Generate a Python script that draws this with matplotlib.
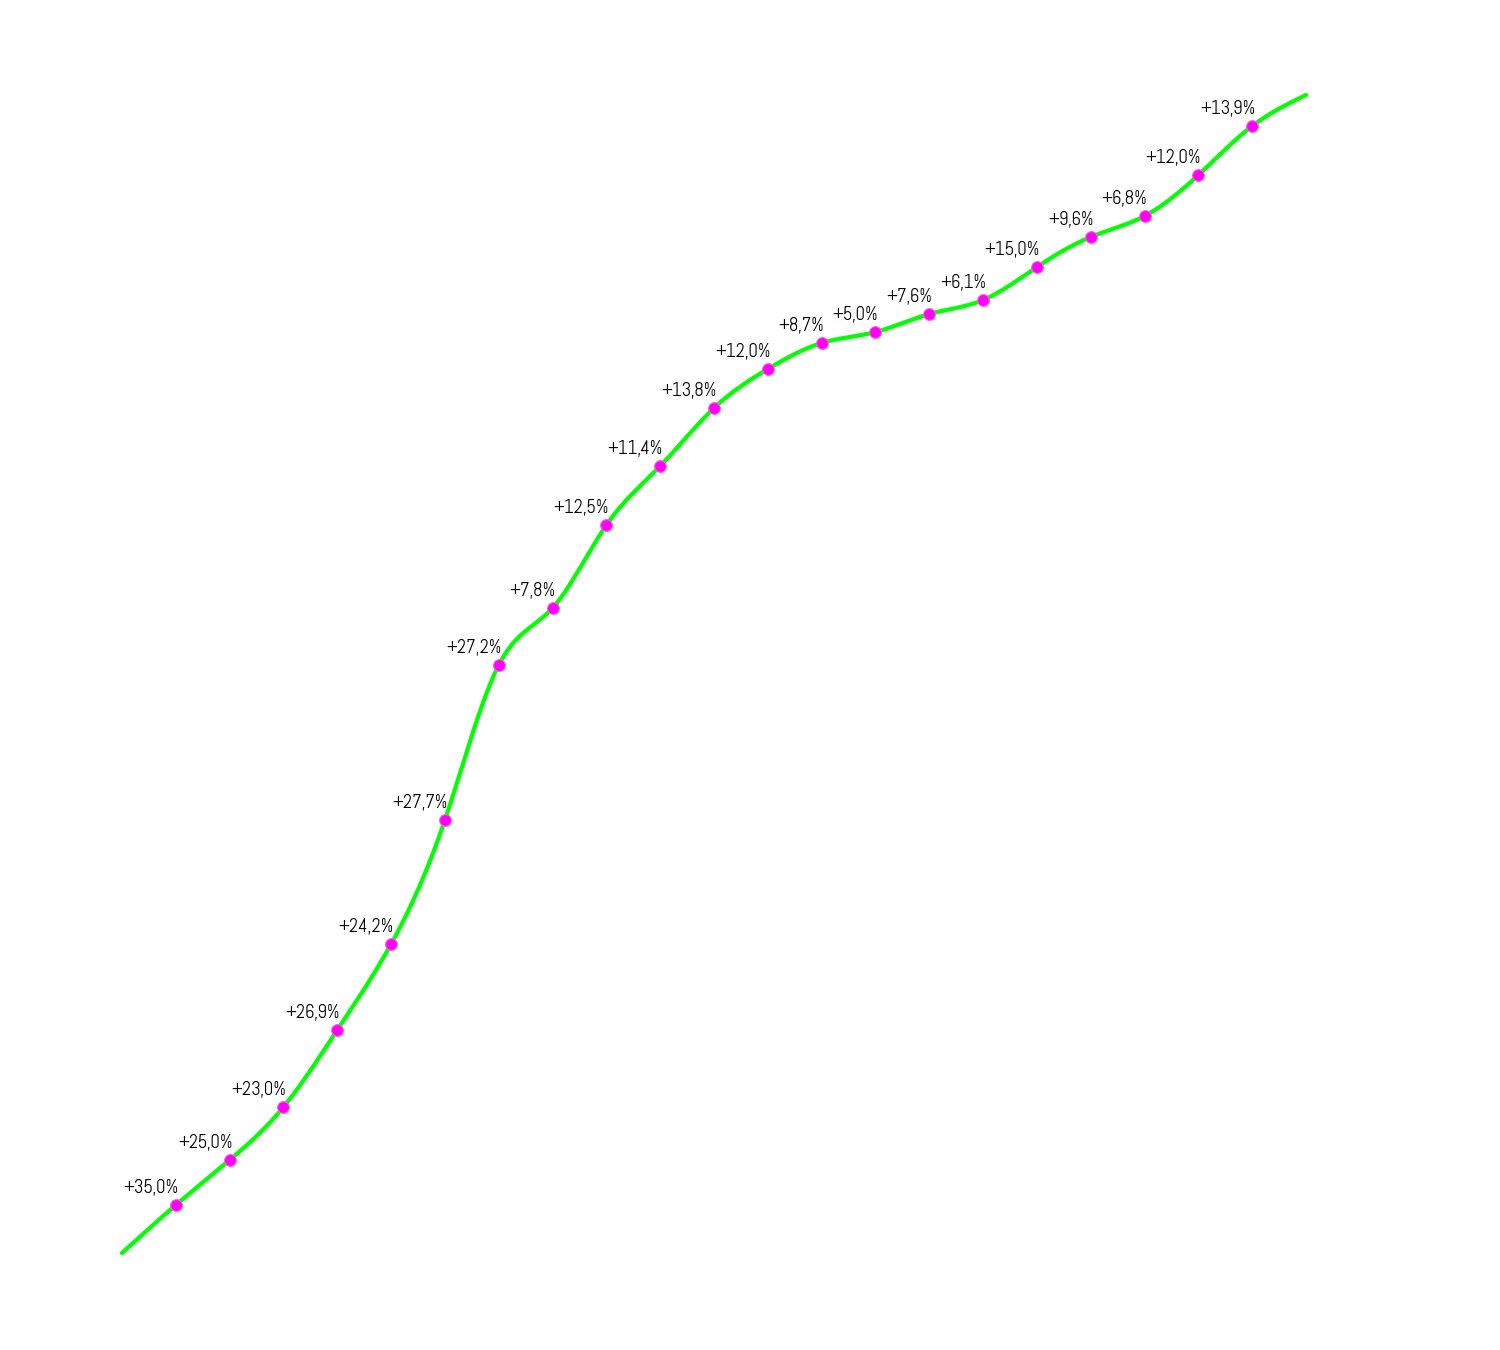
import numpy as np
import matplotlib.pyplot as plt

# data
periods = list(range(23))
index_values = [0, 48, 93, 146, 223, 309, 433, 588, 645, 728, 787, 845, 884,
                910, 921, 939, 953, 986, 1016, 1037, 1078, 1127, 1158]
growth_labels = ["", "+35,0%", "+25,0%", "+23,0%", "+26,9%", "+24,2%", "+27,7%",
                 "+27,2%", "+7,8%", "+12,5%", "+11,4%", "+13,8%", "+12,0%",
                 "+8,7%", "+5,0%", "+7,6%", "+6,1%", "+15,0%", "+9,6%",
                 "+6,8%", "+12,0%", "+13,9%", ""]


def natural_spline(x, y, n=40):
    x = np.asarray(x, float)
    y = np.asarray(y, float)
    k = len(x)
    h = np.diff(x)
    A = np.zeros((k, k))
    r = np.zeros(k)
    A[0, 0] = A[-1, -1] = 1
    for i in range(1, k - 1):
        A[i, i - 1] = h[i - 1]
        A[i, i] = 2 * (h[i - 1] + h[i])
        A[i, i + 1] = h[i]
        r[i] = 6 * ((y[i + 1] - y[i]) / h[i] - (y[i] - y[i - 1]) / h[i - 1])
    M = np.linalg.solve(A, r)
    xs, ys = [], []
    for i in range(k - 1):
        t = np.linspace(x[i], x[i + 1], n, endpoint=False)
        a, b = x[i + 1] - t, t - x[i]
        ys.extend(M[i] * a ** 3 / (6 * h[i]) + M[i + 1] * b ** 3 / (6 * h[i])
                  + (y[i] / h[i] - M[i] * h[i] / 6) * a
                  + (y[i + 1] / h[i] - M[i + 1] * h[i] / 6) * b)
        xs.extend(t)
    xs.append(x[-1])
    ys.append(y[-1])
    return np.array(xs), np.array(ys)


fig = plt.figure(figsize=(15, 13.5), dpi=100)
ax = fig.add_axes([122 / 1500, 97 / 1350, (1306 - 122) / 1500, (1253 - 95) / 1350])
ax.set_xlim(0, 22)
ax.set_ylim(0, 1158)
ax.axis("off")

sx, sy = natural_spline(periods, index_values)
ax.plot(sx, sy, color="#00ff00", lw=3, solid_capstyle="round", zorder=2, clip_on=False)
ax.plot(periods[1:-1], index_values[1:-1], "o", color="#ff00ff", ms=8.5,
        mec="#ff66cc", mew=0.8, zorder=3, clip_on=False)

for x, y, lab in zip(periods, index_values, growth_labels):
    if lab:
        ax.annotate(lab, (x, y), xytext=(2, 5.5), textcoords="offset points",
                    ha="right", va="bottom", fontsize=13.5,
                    family=["Abel", "DejaVu Sans"])

fig.savefig("out.png", dpi=100, facecolor="white")
